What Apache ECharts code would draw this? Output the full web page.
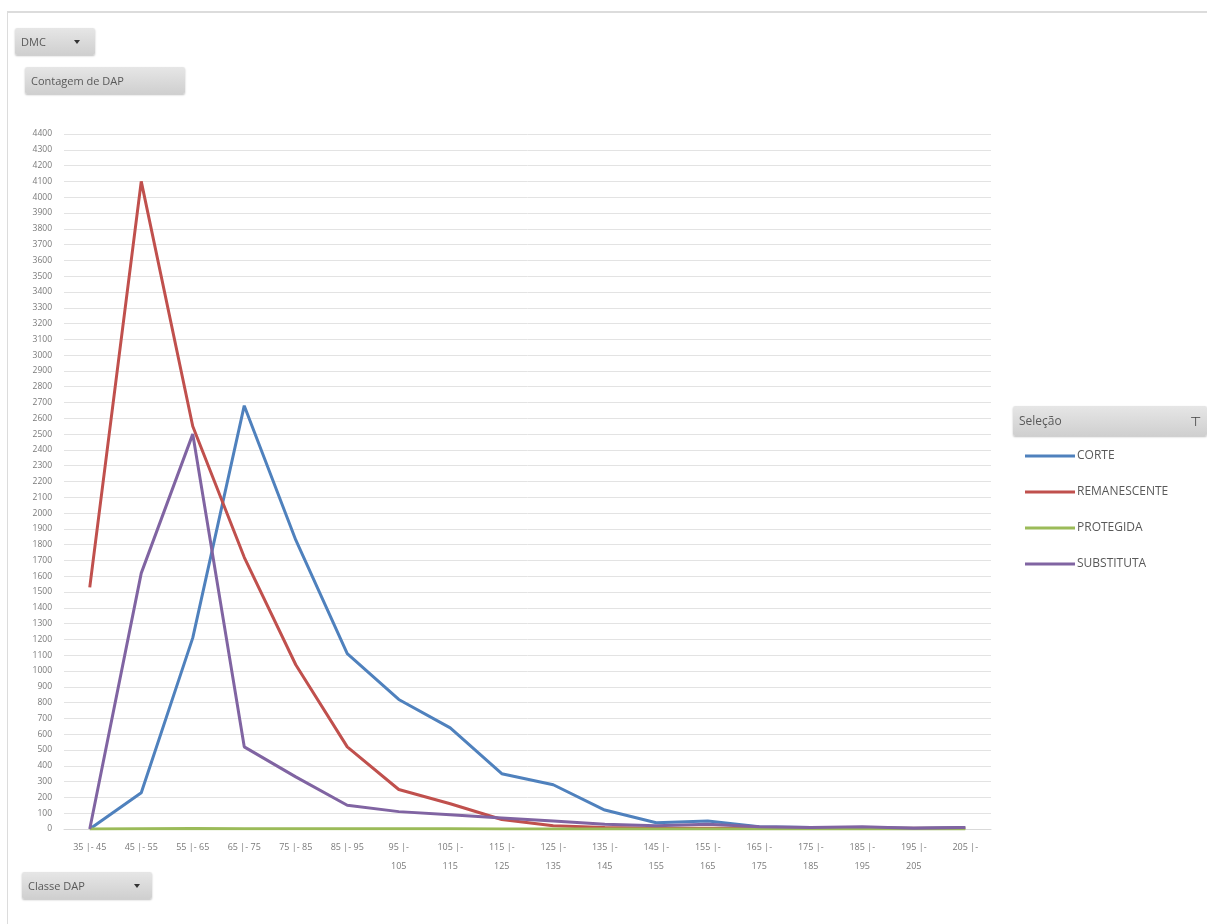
<!DOCTYPE html>
<html>
<head>
<meta charset="utf-8">
<script src="https://cdn.jsdelivr.net/npm/echarts@6/dist/echarts.min.js"></script>
<style>
  html, body { margin:0; padding:0; background:#fff; width:1207px; height:924px; overflow:hidden; font-family:"Open Sans","Noto Sans",sans-serif; }
  #frame { position:absolute; left:7px; top:11px; width:1200px; height:913px; border-left:1px solid #dcdcdc; border-top:2px solid #dcdcdc; }
  #chart { position:absolute; left:0; top:0; width:1207px; height:924px; }
  .btn { position:absolute; height:27px; line-height:27px; font-size:11px; color:#595959; background:linear-gradient(#e6e6e6,#cfcfcf); border-radius:2px; box-shadow:0 1px 2px rgba(0,0,0,0.25); padding-left:6px; box-sizing:border-box; }
  .arrow { position:absolute; top:12px; width:0; height:0; border-left:3px solid transparent; border-right:3px solid transparent; border-top:4px solid #333; }
</style>
</head>
<body>
<div id="frame"></div>
<div id="chart"></div>
<div class="btn" style="left:15px;top:28px;width:80px;">DMC<span class="arrow" style="left:59px;"></span></div>
<div class="btn" style="left:25px;top:67px;width:160px;">Contagem de DAP</div>
<div class="btn" style="left:22px;top:872px;width:130px;">Classe DAP<span class="arrow" style="left:112px;"></span></div>
<div class="btn" style="left:1013px;top:406px;width:194px;height:30px;line-height:30px;font-size:12px;">Seleção<span style="position:absolute;right:6px;top:0px;font-size:13px;color:#444;">⊤</span></div>
<script>
const categories = ['35 |- 45','45 |- 55','55 |- 65','65 |- 75','75 |- 85','85 |- 95','95 |- 105','105 |- 115','115 |- 125','125 |- 135','135 |- 145','145 |- 155','155 |- 165','165 |- 175','175 |- 185','185 |- 195','195 |- 205','205 |-'];
const seriesNames = ['CORTE','REMANESCENTE','PROTEGIDA','SUBSTITUTA'];
const corte        = [0, 230, 1210, 2680, 1830, 1110, 820, 640, 350, 280, 120, 40, 50, 15, 10, 10, 5, 10];
const remanescente = [1530, 4100, 2550, 1720, 1040, 520, 250, 160, 60, 20, 10, 5, 5, 5, 5, 5, 5, 5];
const protegida    = [0, 2, 3, 2, 2, 1, 1, 1, 0, 0, 0, 0, 0, 0, 0, 0, 0, 0];
const substituta   = [0, 1620, 2500, 520, 330, 150, 110, 90, 70, 50, 30, 20, 30, 15, 10, 15, 5, 10];
const yTicks = { min: 0, max: 4400, interval: 100 };
const colors = ['#4F81BD','#C0504D','#9BBB59','#8064A2'];

const chart = echarts.init(document.getElementById('chart'), null, {renderer:'canvas'});
const values = [corte, remanescente, protegida, substituta];
chart.setOption({
  animation:false,
  color: colors,
  grid: { left:64, right:216, top:134, bottom:95 },
  legend: {
    orient:'vertical', left:1020, top:445, itemWidth:50, itemHeight:3, itemGap:24,
    icon:'rect', data: seriesNames,
    textStyle:{ fontSize:12, color:'#595959', fontFamily:'Open Sans', padding:[0,0,0,-3] }
  },
  xAxis: {
    type:'category', data: categories, boundaryGap:true,
    axisLine:{ show:true, lineStyle:{ color:'#d9d9d9' } },
    axisTick:{ show:false },
    axisLabel:{ interval:0, fontSize:9, color:'#7a7a7a', lineHeight:19, margin:9, fontFamily:'Open Sans',
      formatter: function(v){ if (v.length > 8) { const i = v.lastIndexOf(' '); return v.slice(0,i) + '\n' + v.slice(i+1); } return v; } }
  },
  yAxis: {
    type:'value', min:yTicks.min, max:yTicks.max, interval:yTicks.interval,
    axisLine:{ show:false }, axisTick:{ show:false },
    axisLabel:{ fontSize:8.5, color:'#7a7a7a', margin:12, fontFamily:'Open Sans', formatter: function(v){ return String(v); } },
    splitLine:{ lineStyle:{ color:'#e3e3e3', width:1 } }
  },
  series: seriesNames.map((n,i)=>({
    name:n, type:'line', data: values[i], symbol:'none',
    lineStyle:{ width:3, color: colors[i] }, z: 2+i
  }))
});
</script>
</body>
</html>
